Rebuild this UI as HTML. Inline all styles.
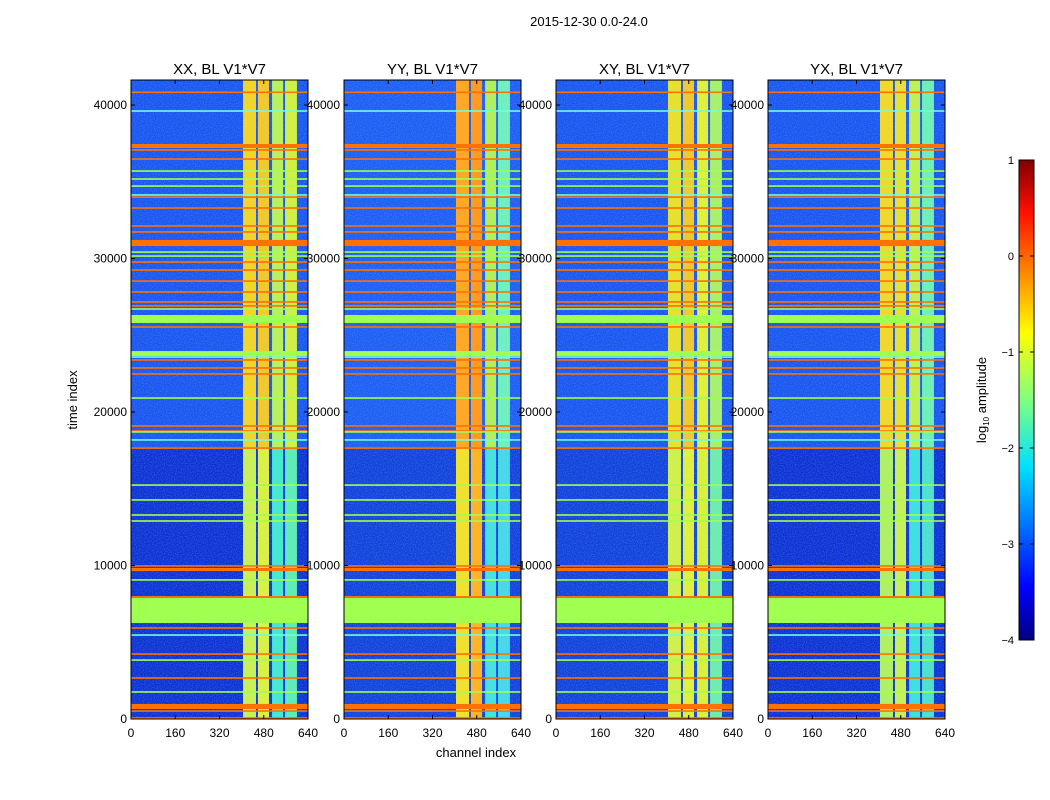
<!DOCTYPE html>
<html><head><meta charset="utf-8"><style>
html,body{margin:0;padding:0;background:#fff;width:1050px;height:800px;overflow:hidden}
svg text{font-family:"Liberation Sans",sans-serif;fill:#000}
</style></head><body>
<svg id="chart" width="1050" height="800" viewBox="0 0 1050 800" xmlns="http://www.w3.org/2000/svg">
<defs>
<linearGradient id="jet" x1="0" y1="1" x2="0" y2="0">
<stop offset="0" stop-color="#00007f"/><stop offset="0.11" stop-color="#0000ff"/><stop offset="0.36" stop-color="#00e0ff"/><stop offset="0.5" stop-color="#80ff80"/><stop offset="0.64" stop-color="#ffff00"/><stop offset="0.89" stop-color="#ff1000"/><stop offset="1" stop-color="#7f0000"/>
</linearGradient>
<filter id="noise" x="0" y="0" width="100%" height="100%"><feTurbulence type="fractalNoise" baseFrequency="0.9" numOctaves="1" seed="3"/><feColorMatrix values="0 0 0 0 0.2  0 0 0 0 0.6  0 0 0 0 1  0 0 0 1.4 -0.55"/></filter>
</defs>
<text x="589" y="26" font-size="13" text-anchor="middle">2015-12-30 0.0-24.0</text>
<text transform="translate(77,400) rotate(-90)" font-size="13" text-anchor="middle">time index</text>
<text x="476" y="757" font-size="13" text-anchor="middle">channel index</text>
<g id="panels"></g>
<rect x="1019" y="160" width="15" height="480" fill="url(#jet)" stroke="#000" stroke-width="1"/>
<g id="cbticks"></g>
<text transform="translate(986,400) rotate(-90)" font-size="13" text-anchor="middle">log<tspan font-size="8" dy="3">10</tspan><tspan dy="-3"> amplitude</tspan></text>
</svg>
<script>
const panelTitles = ["XX, BL V1*V7","YY, BL V1*V7","XY, BL V1*V7","YX, BL V1*V7"];
const xTicks = [0,160,320,480,640];
const yTicks = [0,10000,20000,30000,40000];
const cbTicks = [1,0,-1,-2,-3,-4];
// vertical channel bands [startChannel, endChannel]
const bandStart = [405,459,510,557];
const bandEnd = [452,499,550,600];
// band colors per panel: upper (t>17650) and lower
const bandUpper = [["#f0d530","#f2c830","#b8f060","#d0f048"],["#ffa828","#ff9a22","#b0f060","#70f0c0"],["#e8e030","#f0c830","#e0f040","#a8f070"],["#f0d830","#e8e038","#c0f058","#70f0b8"]];
const bandLower = [["#c8f058","#d8f048","#48e8d0","#60ecb8"],["#f0e030","#ffb428","#48e0e0","#48d8e8"],["#d0f050","#e0f040","#d8f040","#70ecb0"],["#b0f068","#c8f058","#40e0e0","#50e0d0"]];
const splitTime = 17650;
// thin horizontal lines [time, color]
const lineTimes = [40830,39610,37070,36480,35700,35180,34720,34140,34000,33290,32120,31730,30420,30160,29770,29250,28530,27820,27170,26910,26710,25540,23580,23390,22870,22480,20910,19090,18760,18700,18180,17650,15240,14270,13290,12900,9970,9060,5930,5470,4230,3840,2670,1760,520,65];
const lineColors = ["o","c","o","o","g","g","g","c","o","o","o","o","g","g","o","o","o","o","o","o","g","o","c","o","o","o","g","o","o","g","c","o","g","g","g","g","o","g","o","c","o","g","o","g","o","o"];
// thick blocks [t0, t1, color]
const blockStart = [37200,30810,25800,23650,9640,7880,6250,650];
const blockEnd = [37460,31210,26320,23970,9840,8010,7880,980];
const blockColors = ["o","o","g","g","o","o","g","o"];
const colorMap = {o:"#ff7200",g:"#a0ff50",c:"#70ffd8"};

const NS="http://www.w3.org/2000/svg";
const panelX=[131,344,556,768], PW=177, PT=80, PB=719, YMAX=41630;
const yScale=t=>PB-(t/YMAX)*(PB-PT);
function mk(tag,attrs,parent){const e=document.createElementNS(NS,tag);for(const k in attrs)e.setAttribute(k,attrs[k]);parent.appendChild(e);return e;}
const root=document.getElementById('panels');
panelX.forEach((px,p)=>{
  const xScale=c=>px+c/640*PW;
  const g=mk('g',{},root);
  
  
  const ySplit=yScale(splitTime);
  const up=mk('rect',{x:px,y:PT,width:PW,height:ySplit-PT,fill:p==1?"#1e5cf4":"#1a54f0"},g);
  
  
  const lo=mk('rect',{x:px,y:ySplit,width:PW,height:PB-ySplit,fill:p==0||p==3?"#0c30d4":"#1240dc"},g);
  
  
  mk('rect',{x:px,y:PT,width:PW,height:PB-PT,filter:"url(#noise)",opacity:0.5},g);
  for(let b=0;b<bandStart.length;b++){
    const x0=xScale(bandStart[b]),x1=xScale(bandEnd[b]);
    const r1=mk('rect',{x:x0,y:PT,width:x1-x0,height:ySplit-PT,fill:bandUpper[p][b]},g);
    
    
    const r2=mk('rect',{x:x0,y:ySplit,width:x1-x0,height:PB-ySplit,fill:bandLower[p][b]},g);
    
    
  }
  for(let i=0;i<blockStart.length;i++){
    const y0=yScale(blockEnd[i]),y1=yScale(blockStart[i]);
    const r=mk('rect',{x:px,y:y0,width:PW,height:Math.max(1.5,y1-y0),fill:colorMap[blockColors[i]]},g);
    
    
  }
  for(let i=0;i<lineTimes.length;i++){
    const r=mk('rect',{x:px,y:yScale(lineTimes[i])-0.8,width:PW,height:1.6,fill:colorMap[lineColors[i]]},g);
    
    
  }
  const fr=mk('rect',{x:px,y:PT,width:PW,height:PB-PT,fill:"none",stroke:"#000","stroke-width":1},g);
  
  
  const t=mk('text',{x:px+PW/2,y:74,"font-size":15,"text-anchor":"middle"},g);
  t.textContent=panelTitles[p];
  
  
  xTicks.forEach(v=>{
    const x=xScale(v);
    mk('line',{x1:x,x2:x,y1:PB,y2:PB-4,stroke:"#000"},g);
    mk('line',{x1:x,x2:x,y1:PT,y2:PT+4,stroke:"#000"},g);
    const l=mk('text',{x:x,y:737,"font-size":12,"text-anchor":"middle"},g);
    l.textContent=v;
    
    
  });
  yTicks.forEach(v=>{
    const y=yScale(v);
    mk('line',{x1:px,x2:px+4,y1:y,y2:y,stroke:"#000"},g);
    mk('line',{x1:px+PW,x2:px+PW-4,y1:y,y2:y,stroke:"#000"},g);
    const l=mk('text',{x:px-4,y:y+4,"font-size":12,"text-anchor":"end"},g);
    l.textContent=v;
    
    
  });
});
const cb=document.getElementById('cbticks');
const cbY=v=>160+(1-v)*96;
cbTicks.forEach(v=>{
  const y=cbY(v);
  mk('line',{x1:1019,x2:1023,y1:y,y2:y,stroke:"#000"},cb);
  mk('line',{x1:1034,x2:1030,y1:y,y2:y,stroke:"#000"},cb);
  const l=mk('text',{x:1014,y:y+4,"font-size":11,"text-anchor":"end"},cb);
  l.textContent=v<0?"\u2212"+(-v):String(v);
  
  
});
</script>
</body></html>
